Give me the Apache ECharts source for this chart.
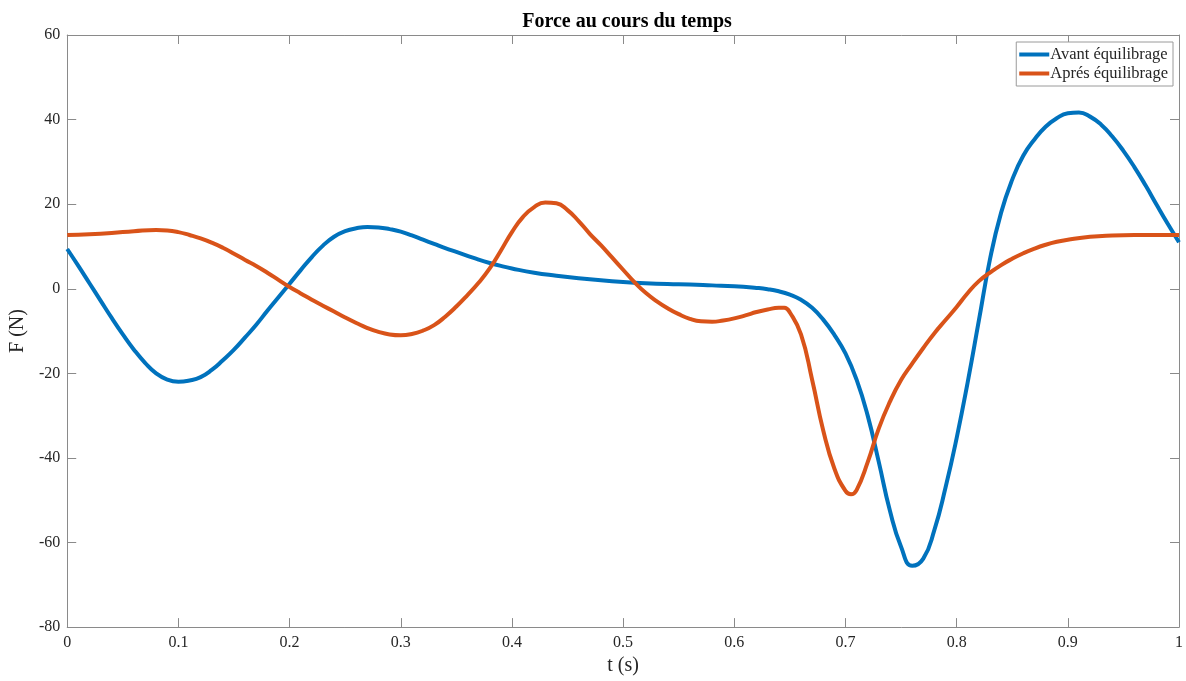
<!DOCTYPE html>
<html>
<head>
<meta charset="utf-8">
<script src="https://cdn.jsdelivr.net/npm/echarts@6/dist/echarts.min.js"></script>
<style>html,body{margin:0;padding:0;background:#fff}#c{width:1186px;height:681px}</style>
</head>
<body>
<div id="c"></div>
<script>
const title = 'Force au cours du temps';
const xName = 't (s)';
const yName = 'F (N)';
const seriesNames = ['Avant équilibrage', 'Aprés équilibrage'];

const tAvant = [0.00, 0.01, 0.02, 0.03, 0.04, 0.05, 0.06, 0.07, 0.08, 0.09, 0.10, 0.11, 0.12, 0.13, 0.14, 0.15, 0.16, 0.17, 0.18, 0.19, 0.20, 0.21, 0.22, 0.23, 0.24, 0.25, 0.26, 0.27, 0.28, 0.29, 0.30, 0.31, 0.32, 0.33, 0.34, 0.35, 0.36, 0.37, 0.38, 0.39, 0.40, 0.42, 0.44, 0.46, 0.48, 0.50, 0.52, 0.54, 0.56, 0.58, 0.60, 0.62, 0.63, 0.64, 0.65, 0.66, 0.67, 0.68, 0.69, 0.70, 0.71, 0.72, 0.73, 0.74, 0.75, 0.76, 0.77, 0.78, 0.79, 0.80, 0.81, 0.82, 0.83, 0.84, 0.85, 0.86, 0.87, 0.88, 0.89, 0.90, 0.91, 0.92, 0.93, 0.94, 0.95, 0.96, 0.97, 0.98, 0.99, 1.00];
const vAvant = [9.4, 5.4, 1.3, -2.8, -6.9, -10.8, -14.4, -17.5, -20.0, -21.5, -22.0, -21.7, -20.9, -19.2, -16.9, -14.4, -11.5, -8.5, -5.2, -2.0, 1.2, 4.4, 7.5, 10.2, 12.3, 13.6, 14.3, 14.6, 14.5, 14.1, 13.5, 12.6, 11.6, 10.6, 9.6, 8.7, 7.8, 6.9, 6.1, 5.4, 4.8, 3.8, 3.1, 2.5, 2.0, 1.6, 1.3, 1.1, 1.0, 0.8, 0.6, 0.2, -0.1, -0.6, -1.4, -2.6, -4.5, -7.3, -10.9, -15.3, -21.5, -30.0, -41.0, -52.5, -61.0, -65.5, -63.8, -57.0, -47.0, -35.3, -22.0, -7.5, 7.0, 18.0, 25.8, 31.5, 35.3, 38.3, 40.3, 41.5, 41.7, 40.7, 38.8, 36.0, 32.6, 28.7, 24.4, 19.8, 15.3, 11.0];

const tApres = [0.00, 0.02, 0.04, 0.06, 0.08, 0.09, 0.10, 0.11, 0.12, 0.13, 0.14, 0.15, 0.16, 0.17, 0.18, 0.19, 0.20, 0.21, 0.22, 0.23, 0.24, 0.25, 0.26, 0.27, 0.28, 0.29, 0.30, 0.31, 0.32, 0.33, 0.34, 0.35, 0.36, 0.37, 0.38, 0.39, 0.40, 0.41, 0.42, 0.43, 0.44, 0.45, 0.46, 0.47, 0.48, 0.49, 0.50, 0.51, 0.52, 0.53, 0.54, 0.55, 0.56, 0.57, 0.58, 0.59, 0.60, 0.61, 0.62, 0.63, 0.64, 0.645, 0.65, 0.66, 0.67, 0.68, 0.69, 0.70, 0.705, 0.71, 0.72, 0.73, 0.74, 0.75, 0.76, 0.77, 0.78, 0.79, 0.80, 0.81, 0.82, 0.83, 0.84, 0.85, 0.86, 0.87, 0.88, 0.89, 0.90, 0.92, 0.94, 0.96, 0.98, 1.00];
const vApres = [12.7, 12.9, 13.2, 13.6, 13.9, 13.8, 13.4, 12.7, 11.9, 10.9, 9.7, 8.3, 6.8, 5.4, 3.8, 2.1, 0.4, -1.1, -2.6, -4.0, -5.4, -6.8, -8.1, -9.3, -10.2, -10.8, -11.0, -10.7, -9.9, -8.6, -6.6, -4.2, -1.5, 1.4, 4.8, 9.0, 13.4, 17.0, 19.3, 20.4, 20.2, 18.6, 16.0, 13.0, 10.3, 7.4, 4.5, 1.6, -0.9, -2.9, -4.6, -6.0, -7.1, -7.7, -7.8, -7.5, -7.0, -6.3, -5.5, -4.9, -4.5, -4.5, -5.6, -10.8, -21.5, -33.5, -42.5, -47.8, -48.6, -47.6, -41.0, -33.0, -26.7, -21.6, -17.7, -14.0, -10.5, -7.4, -4.3, -1.0, 1.8, 3.8, 5.6, 7.1, 8.4, 9.5, 10.4, 11.1, 11.6, 12.3, 12.6, 12.7, 12.7, 12.7];

const xTicks = {min: 0, max: 1, interval: 0.1};
const yTicks = {min: -80, max: 60, interval: 20};
const colors = ['#0072BD', '#D95319'];

const font = '"Liberation Serif", "Times New Roman", serif';
const axisColor = '#8a8a8a';
const textColor = '#262626';

const pairs = (t, v) => t.map((x, i) => [x, v[i]]);

const chart = echarts.init(document.getElementById('c'), null, {renderer: 'canvas'});
const baseX = {
  type: 'value', min: xTicks.min, max: xTicks.max, interval: xTicks.interval,
  axisLine: {show: true, onZero: false, lineStyle: {color: axisColor, width: 1}},
  axisTick: {show: true, inside: true, length: 9, lineStyle: {color: axisColor}},
  splitLine: {show: false}
};
const baseY = {
  type: 'value', min: yTicks.min, max: yTicks.max, interval: yTicks.interval,
  axisLine: {show: true, onZero: false, lineStyle: {color: axisColor, width: 1}},
  axisTick: {show: true, inside: true, length: 9, lineStyle: {color: axisColor}},
  splitLine: {show: false}
};
chart.setOption({
  animation: false,
  backgroundColor: '#fff',
  textStyle: {fontFamily: font},
  title: {
    text: title, left: 622, textAlign: 'center', top: 7,
    textStyle: {fontFamily: font, fontWeight: 'bold', fontSize: 20, color: '#000'}
  },
  grid: {left: 65, right: 6, top: 35, bottom: 50, containLabel: false},
  legend: {
    orient: 'vertical', right: 13, top: 42,
    data: seriesNames,
    icon: 'rect', itemWidth: 30, itemHeight: 4, itemGap: 2,
    padding: [4, 5, 4, 3],
    borderColor: '#9a9a9a', borderWidth: 1, backgroundColor: '#fff',
    textStyle: {fontFamily: font, fontSize: 16.5, color: textColor, padding: [0, 0, 0, -4]}
  },
  xAxis: [
    Object.assign({}, baseX, {
      position: 'bottom', name: xName, nameLocation: 'middle', nameGap: 25,
      nameTextStyle: {fontFamily: font, fontSize: 20, color: textColor},
      axisLabel: {fontFamily: font, fontSize: 16, color: textColor, margin: 8,
        formatter: v => String(+v.toFixed(1))}
    }),
    Object.assign({}, baseX, {position: 'top', axisLabel: {show: false}})
  ],
  yAxis: [
    Object.assign({}, baseY, {
      position: 'left', name: yName, nameLocation: 'middle', nameGap: 33,
      nameTextStyle: {fontFamily: font, fontSize: 20, color: textColor},
      axisLabel: {fontFamily: font, fontSize: 16, color: textColor, margin: 7}
    }),
    Object.assign({}, baseY, {position: 'right', axisLabel: {show: false}})
  ],
  series: [
    {name: seriesNames[0], type: 'line', xAxisIndex: 0, yAxisIndex: 0,
     data: pairs(tAvant, vAvant), showSymbol: false, smooth: 0.5,
     lineStyle: {color: colors[0], width: 4}, itemStyle: {color: colors[0]}},
    {name: seriesNames[1], type: 'line', xAxisIndex: 0, yAxisIndex: 0,
     data: pairs(tApres, vApres), showSymbol: false, smooth: 0.5,
     lineStyle: {color: colors[1], width: 4}, itemStyle: {color: colors[1]}}
  ]
});
</script>
</body>
</html>
